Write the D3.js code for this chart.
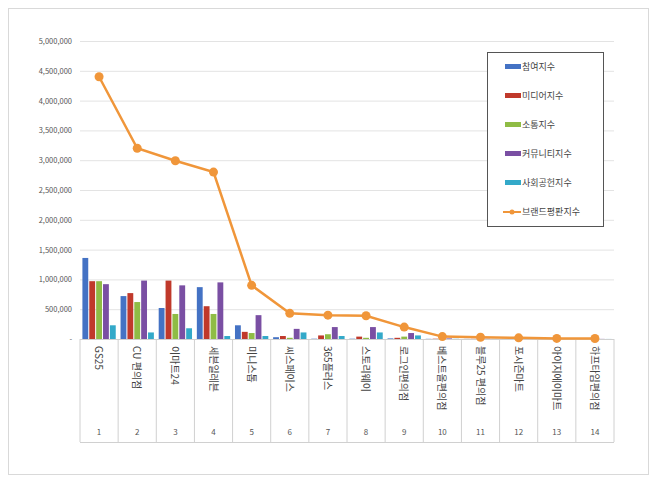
<!DOCTYPE html>
<html><head><meta charset="utf-8">
<script src="https://cdn.jsdelivr.net/npm/d3@7"></script>
<style>body{margin:0;background:#fff;font-family:"Noto Sans CJK KR","Noto Sans",sans-serif}</style>
</head><body><div class="canvas"></div>
<script>
const ranks = ['1','2','3','4','5','6','7','8','9','10','11','12','13','14'];
const brands = ['GS25','CU 편의점','이마트24','세븐일레븐','미니스톱','씨스페이스','365플러스','스토리웨이','로그인편의점','베스트올편의점','블루25 편의점','포시즌마트','아이지에이마트','하프타임편의점'];
const seriesNames = ['참여지수','미디어지수','소통지수','커뮤니티지수','사회공헌지수'];
const seriesColors = ['#4472c4','#c0392b','#8fbc45','#7a4fa3','#33a9c9'];
const participation = [1360000,720000,520000,870000,230000,30000,5000,5000,10000,3000,2000,2000,1000,1000];
const media = [970000,770000,980000,550000,120000,50000,60000,40000,20000,5000,3000,2000,1000,1000];
const communication = [970000,620000,420000,420000,100000,20000,80000,20000,40000,5000,3000,2000,1000,1000];
const community = [920000,980000,900000,950000,400000,170000,200000,200000,100000,10000,5000,3000,2000,2000];
const social = [230000,110000,180000,50000,50000,110000,50000,110000,60000,3000,2000,1000,1000,1000];
const reputation = [4400000,3200000,2990000,2800000,900000,430000,400000,390000,200000,40000,30000,20000,10000,8000];
const yTicks = [0,500000,1000000,1500000,2000000,2500000,3000000,3500000,4000000,4500000,5000000];
const series = [participation, media, communication, community, social];

const svg = d3.select('.canvas').append('svg').attr('width',660).attr('height',483);
svg.append('rect').attr('x',8.5).attr('y',8.5).attr('width',640).attr('height',466)
  .attr('fill','#fff').attr('stroke','#d9d9d9');

const plotLeft = 80, plotRight = 614, plotTop = 41, plotBottom = 339;
const x = d3.scaleBand().domain(ranks).range([plotLeft,plotRight]);
const y = d3.scaleLinear().domain([0,5000000]).range([plotBottom,plotTop]);
const xs = d3.scaleBand().domain(d3.range(5)).range([0,x.bandwidth()]).paddingInner(0.15).paddingOuter(0.35);

// grid
svg.append('g').selectAll('line').data(yTicks.slice(1)).join('line')
  .attr('x1',plotLeft).attr('x2',plotRight).attr('y1',d=>y(d)+0.5).attr('y2',d=>y(d)+0.5)
  .attr('stroke','#e3e3e3');

// y axis labels
svg.append('g').selectAll('text').data(yTicks).join('text')
  .attr('x',72).attr('y',d=>y(d)+3).attr('text-anchor','end')
  .attr('font-size',7.5).attr('fill','#555')
  .text(d=>d===0?'-':d3.format(',')(d));

// bars
series.forEach((s,i)=>{
  svg.append('g').selectAll('rect').data(s).join('rect')
    .attr('x',(d,j)=>x(ranks[j])+xs(i)).attr('width',xs.bandwidth())
    .attr('y',d=>y(d)).attr('height',d=>plotBottom-y(d)).attr('fill',seriesColors[i]);
});

// category axis
svg.append('line').attr('x1',plotLeft).attr('x2',plotRight).attr('y1',plotBottom+0.5).attr('y2',plotBottom+0.5).attr('stroke','#d0d0d0');
svg.append('g').selectAll('line').data(d3.range(15)).join('line')
  .attr('x1',i=>plotLeft+i*x.bandwidth()).attr('x2',i=>plotLeft+i*x.bandwidth())
  .attr('y1',plotBottom).attr('y2',442).attr('stroke','#d0d0d0');
svg.append('line').attr('x1',plotLeft).attr('x2',plotRight).attr('y1',442.5).attr('y2',442.5).attr('stroke','#d0d0d0');

svg.append('g').selectAll('text').data(brands).join('text')
  .attr('transform',(d,i)=>`translate(${x(ranks[i])+x.bandwidth()/2-4},346) rotate(90)`)
  .attr('font-size',10).attr('fill','#444').text(d=>d);
svg.append('g').selectAll('text').data(ranks).join('text')
  .attr('x',d=>x(d)+x.bandwidth()/2).attr('y',435).attr('text-anchor','middle')
  .attr('font-size',8).attr('fill','#555').text(d=>d);

// line
const line = d3.line().x((d,i)=>x(ranks[i])+x.bandwidth()/2).y(d=>y(d));
svg.append('path').datum(reputation).attr('d',line).attr('fill','none')
  .attr('stroke','#f0963a').attr('stroke-width',2.5);
svg.append('g').selectAll('circle').data(reputation).join('circle')
  .attr('cx',(d,i)=>x(ranks[i])+x.bandwidth()/2).attr('cy',d=>y(d)).attr('r',4.5).attr('fill','#f0963a');

// legend
const lg = svg.append('g');
lg.append('rect').attr('x',487.5).attr('y',52.5).attr('width',116).attr('height',174)
  .attr('fill','#fff').attr('stroke','#555');
seriesNames.forEach((n,i)=>{
  const yy = 67 + i*29;
  lg.append('rect').attr('x',505).attr('y',yy-3).attr('width',16).attr('height',5).attr('fill',seriesColors[i]);
  lg.append('text').attr('x',522).attr('y',yy+3).attr('font-size',9).attr('fill','#444').text(n);
});
const ly = 67 + 5*29;
lg.append('line').attr('x1',503).attr('x2',521).attr('y1',ly).attr('y2',ly).attr('stroke','#f0963a').attr('stroke-width',2);
lg.append('circle').attr('cx',512).attr('cy',ly).attr('r',2.5).attr('fill','#f0963a');
lg.append('text').attr('x',522).attr('y',ly+3).attr('font-size',9).attr('fill','#444').text('브랜드평판지수');
</script></body></html>
